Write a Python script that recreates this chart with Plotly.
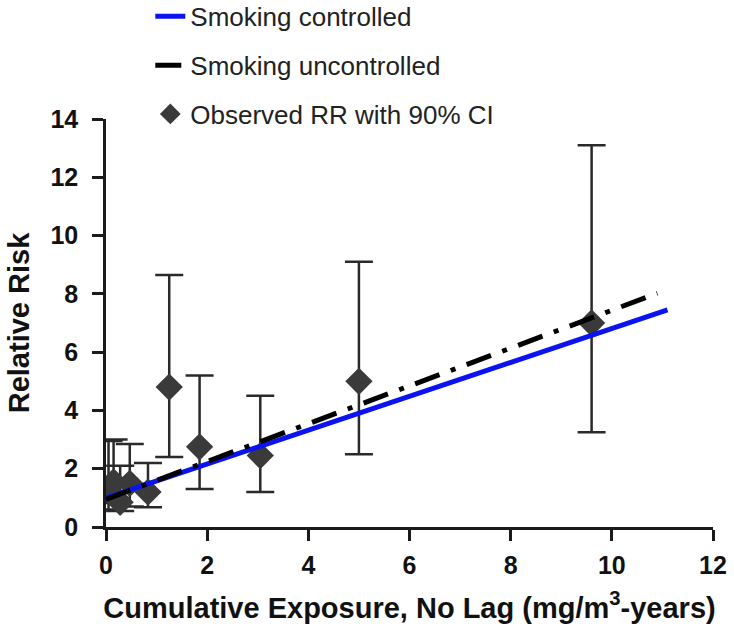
import plotly.graph_objects as go

# Observed relative risks with 90% CI
obs_x = [0.05, 0.15, 0.28, 0.47, 0.83, 1.25, 1.85, 3.05, 5.0, 9.6]
obs_rr = [1.25, 1.55, 0.85, 1.5, 1.2, 4.8, 2.75, 2.45, 5.0, 7.0]
ci_upper = [2.95, 3.0, 2.1, 2.85, 2.2, 8.65, 5.2, 4.5, 9.1, 13.1]
ci_lower = [0.6, 0.82, 0.55, 0.7, 0.68, 2.4, 1.3, 1.2, 2.5, 3.25]

# Model lines
ctrl_x = [0, 11.1]
ctrl_rr = [1.0, 7.45]
unctrl_x = [0, 10.9]
unctrl_rr = [0.95, 8.02]

x_ticks = [0, 2, 4, 6, 8, 10, 12]
y_ticks = [0, 2, 4, 6, 8, 10, 12, 14]

err_plus = [u - v for u, v in zip(ci_upper, obs_rr)]
err_minus = [v - l for v, l in zip(obs_rr, ci_lower)]

fig = go.Figure()
fig.add_trace(go.Scatter(
    x=obs_x, y=obs_rr, mode="markers", name="Observed RR with 90% CI",
    marker=dict(symbol="diamond", size=21, color="#3a3a3a", line=dict(width=0)),
    error_y=dict(type="data", array=err_plus, arrayminus=err_minus,
                 color="#2a2a2a", thickness=2.5, width=14),
    legendrank=3, legendgroup="c",
))
fig.add_trace(go.Scatter(
    x=ctrl_x, y=ctrl_rr, mode="lines", name="Smoking controlled",
    line=dict(color="#0a14f0", width=5), legendrank=1, legendgroup="a",
))
fig.add_trace(go.Scatter(
    x=unctrl_x, y=unctrl_rr, mode="lines", name="Smoking uncontrolled",
    line=dict(color="#000000", width=5, dash="26px,12px,5px,12px"),
    legendrank=2, legendgroup="b",
))

axis_common = dict(
    showline=True, linecolor="#1a1a1a", linewidth=2.5,
    ticks="outside", ticklen=11, tickwidth=2.5, tickcolor="#1a1a1a",
    showgrid=False, zeroline=False, automargin=False,
    tickfont=dict(family="Liberation Sans", size=25, color="#111111", weight="bold"),
)

fig.update_layout(
    width=734, height=633,
    margin=dict(l=106, r=21, t=119, b=106, autoexpand=False),
    plot_bgcolor="white", paper_bgcolor="white",
    xaxis=dict(range=[0, 12], tickvals=x_ticks, ticklabelstandoff=3, **axis_common,
               title=dict(text="<b>Cumulative Exposure, No Lag (mg/m<sup>3</sup>-years)</b>",
                          font=dict(family="Liberation Sans", size=29, color="#111111"),
                          standoff=20)),
    yaxis=dict(range=[0, 14], tickvals=y_ticks, ticklabelstandoff=9, **axis_common,
               title=dict(text="<b>Relative Risk</b>",
                          font=dict(family="Liberation Sans", size=29, color="#111111"),
                          standoff=13)),
    legend=dict(x=0.073, y=1.309, xanchor="left", yanchor="top",
                font=dict(family="Liberation Sans", size=26, color="#222222"),
                tracegroupgap=12, bgcolor="rgba(0,0,0,0)"),
    showlegend=True,
)

fig.write_html("out.html", config={"displayModeBar": False},
               post_script="document.body.style.margin='0';")
